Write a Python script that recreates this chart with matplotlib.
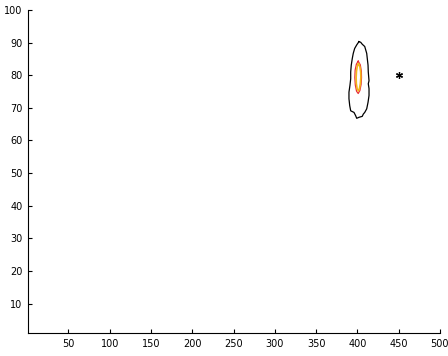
import matplotlib
matplotlib.use("Agg")
import matplotlib.pyplot as plt

# outer (black) contour outline
black_x = [401.9, 404.0, 405.9, 408.9, 411.3, 412.0, 412.9, 413.2, 414.1, 413.2, 414.1, 414.1,
           412.9, 411.3, 408.9, 407.2, 405.9, 401.9, 399.2, 397.9, 395.9, 391.9, 390.7, 389.8,
           389.8, 391.0, 391.9, 391.9, 392.6, 393.8, 395.0, 396.7, 399.2, 401.9]
black_y = [90.3, 90.1, 89.5, 88.8, 86.7, 85.1, 83.1, 81.0, 78.3, 77.4, 75.9, 73.8,
           71.7, 69.7, 68.6, 68.1, 67.4, 67.1, 66.8, 67.6, 68.6, 69.1, 70.7, 72.8,
           74.8, 76.9, 78.9, 81.0, 83.1, 85.1, 86.7, 88.2, 89.3, 90.3]
# red contour
red_x = [401.0, 403.5, 404.8, 405.0, 404.5, 403.0, 401.0, 399.0, 397.5, 396.9, 397.3, 398.8, 401.0]
red_y = [84.3, 83.2, 81.2, 79.3, 77.2, 75.3, 74.4, 75.1, 77.0, 79.3, 81.6, 83.4, 84.3]
# yellow contour
yel_x = [401.3, 403.0, 404.0, 404.2, 403.6, 402.5, 401.2, 399.7, 398.7, 398.5, 398.9, 399.9, 401.3]
yel_y = [83.5, 82.6, 81.0, 79.3, 77.5, 75.9, 75.2, 75.9, 77.5, 79.3, 81.2, 82.8, 83.5]
# star marker
star_x = [450]
star_y = [80]

x_ticks = [50, 100, 150, 200, 250, 300, 350, 400, 450, 500]
y_ticks = [10, 20, 30, 40, 50, 60, 70, 80, 90, 100]

fig = plt.figure(figsize=(4.48, 3.56), dpi=100)
ax = fig.add_axes([0.0625, 0.0646, 0.9195, 0.9074])
ax.plot(black_x, black_y, color="black", lw=0.9)
ax.plot(red_x, red_y, color="#e8303a", lw=0.9)
ax.plot(yel_x, yel_y, color="#f2b81c", lw=1.2)
ax.plot(star_x, star_y, linestyle="none", marker=(6, 2, 0), color="black",
        markersize=5, markeredgewidth=0.9)

ax.set_xlim(1, 500)
ax.set_ylim(1, 100)
ax.set_xticks(x_ticks)
ax.set_yticks(y_ticks)
ax.tick_params(direction="in", length=3, width=0.8, labelsize=7, pad=4)
for s in ["top", "right"]:
    ax.spines[s].set_visible(False)
for s in ["left", "bottom"]:
    ax.spines[s].set_linewidth(0.8)

fig.savefig("out.png", dpi=100)
